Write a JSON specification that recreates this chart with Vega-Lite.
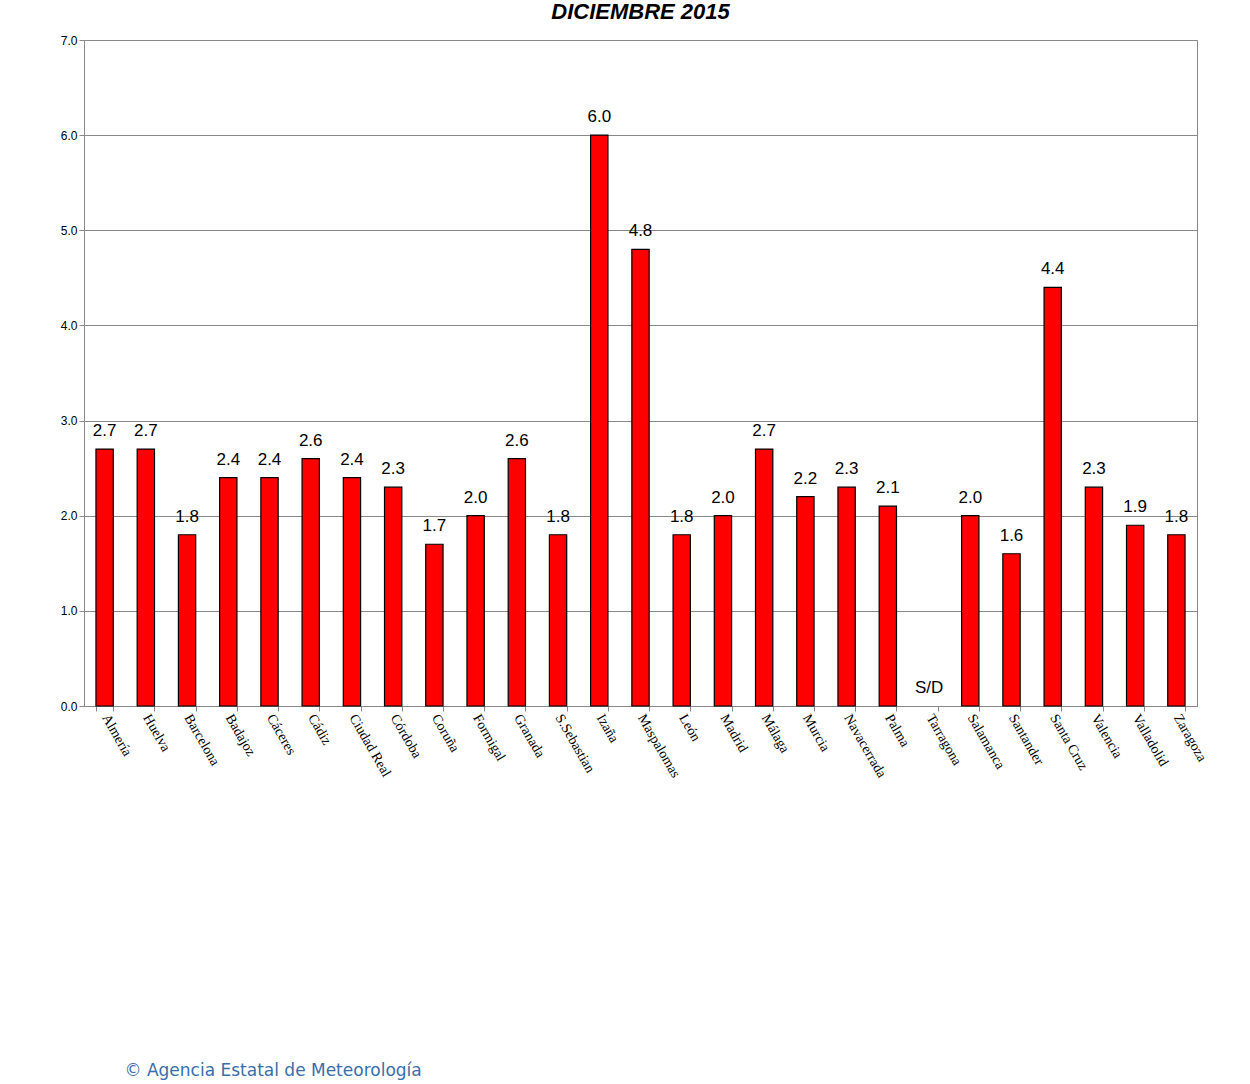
{
  "$schema": "https://vega.github.io/schema/vega-lite/v6.json",
  "autosize": {"type": "none"},
  "padding": {"left": 84, "top": 40, "right": 53, "bottom": 378},
  "width": 1113,
  "height": 666,
  "background": "white",
  "config": {"view": {"stroke": "#888888", "strokeWidth": 1}},
  "title": {"text": "DICIEMBRE 2015", "font": "Liberation Sans", "fontSize": 22, "fontStyle": "italic", "fontWeight": "bold", "color": "black", "anchor": "middle", "offset": 10},
  "data": {"values": [
    {"est": "Almería", "v": 2.7, "lab": "2.7"},
    {"est": "Huelva", "v": 2.7, "lab": "2.7"},
    {"est": "Barcelona", "v": 1.8, "lab": "1.8"},
    {"est": "Badajoz", "v": 2.4, "lab": "2.4"},
    {"est": "Cáceres", "v": 2.4, "lab": "2.4"},
    {"est": "Cádiz", "v": 2.6, "lab": "2.6"},
    {"est": "Ciudad Real", "v": 2.4, "lab": "2.4"},
    {"est": "Córdoba", "v": 2.3, "lab": "2.3"},
    {"est": "Coruña", "v": 1.7, "lab": "1.7"},
    {"est": "Formigal", "v": 2.0, "lab": "2.0"},
    {"est": "Granada", "v": 2.6, "lab": "2.6"},
    {"est": "S.Sebastian", "v": 1.8, "lab": "1.8"},
    {"est": "Izaña", "v": 6.0, "lab": "6.0"},
    {"est": "Maspalomas", "v": 4.8, "lab": "4.8"},
    {"est": "León", "v": 1.8, "lab": "1.8"},
    {"est": "Madrid", "v": 2.0, "lab": "2.0"},
    {"est": "Málaga", "v": 2.7, "lab": "2.7"},
    {"est": "Murcia", "v": 2.2, "lab": "2.2"},
    {"est": "Navacerrada", "v": 2.3, "lab": "2.3"},
    {"est": "Palma", "v": 2.1, "lab": "2.1"},
    {"est": "Tarragona", "v": 0, "lab": "S/D"},
    {"est": "Salamanca", "v": 2.0, "lab": "2.0"},
    {"est": "Santander", "v": 1.6, "lab": "1.6"},
    {"est": "Santa Cruz", "v": 4.4, "lab": "4.4"},
    {"est": "Valencia", "v": 2.3, "lab": "2.3"},
    {"est": "Valladolid", "v": 1.9, "lab": "1.9"},
    {"est": "Zaragoza", "v": 1.8, "lab": "1.8"}
  ]},
  "encoding": {
    "x": {"field": "est", "type": "nominal", "sort": null,
      "scale": {"paddingInner": 0.58, "paddingOuter": 0.29},
      "axis": {"title": "© Agencia Estatal de Meteorología", "titleColor": "#3a6ea8", "titleFont": "DejaVu Sans", "titleFontSize": 17, "titleFontWeight": "normal", "titleAnchor": "start", "titleAlign": "left", "titleBaseline": "middle", "titleX": 40, "titleY": 364,
        "labelAngle": 60, "labelAlign": "left", "labelBaseline": "middle", "labelFont": "Liberation Serif", "labelFontSize": 14, "labelColor": "black", "labelPadding": 4,
        "domainColor": "#888888", "tickColor": "#888888", "tickBand": "extent", "ticks": true}},
    "y": {"field": "v", "type": "quantitative", "scale": {"domain": [0, 7]},
      "axis": {"title": null, "values": [0, 1, 2, 3, 4, 5, 6, 7], "format": ".1f", "labelFont": "Liberation Sans", "labelFontSize": 12, "labelColor": "black", "gridColor": "#888888", "domainColor": "#888888", "tickColor": "#888888"}}
  },
  "layer": [
    {"mark": {"type": "bar", "color": "#ff0000", "stroke": "black", "strokeWidth": 1.2},
     "encoding": {"opacity": {"condition": {"test": "datum.v > 0", "value": 1}, "value": 0}}},
    {"mark": {"type": "text", "dy": -9, "baseline": "bottom", "font": "Liberation Sans", "fontSize": 17, "color": "black"}, "encoding": {"text": {"field": "lab"}}}
  ]
}
